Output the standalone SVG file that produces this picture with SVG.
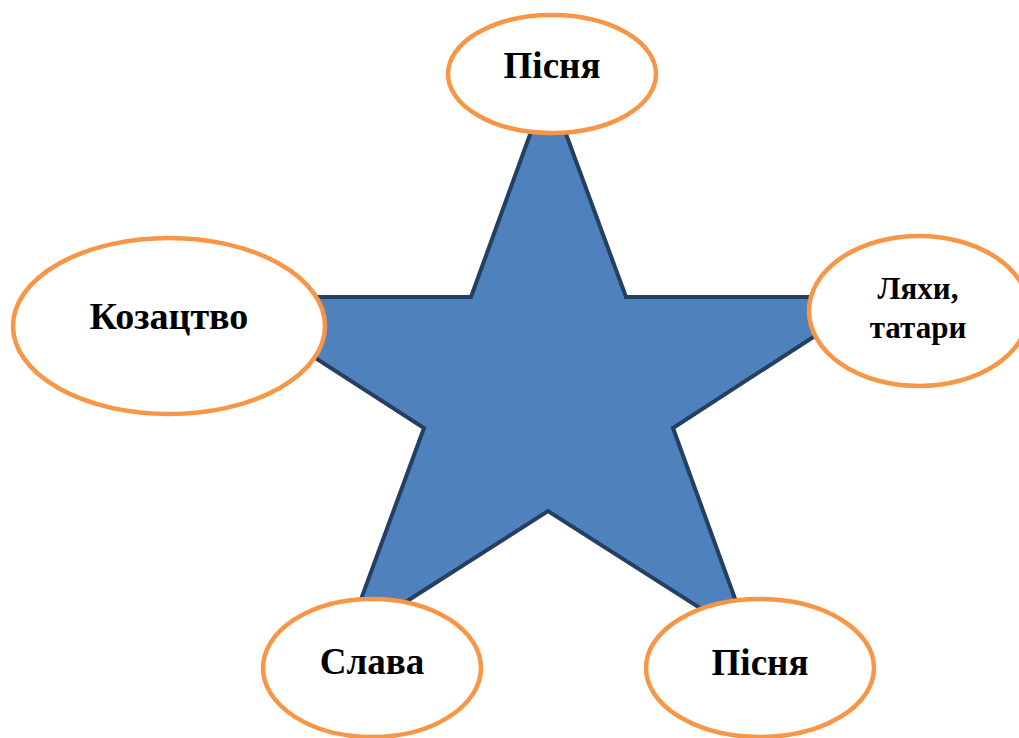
<svg xmlns="http://www.w3.org/2000/svg" width="1019" height="738" viewBox="0 0 1019 738">
<style>
.node ellipse{fill:#fff;stroke:#F79646;stroke-width:4.5}
.node text{font-family:"Liberation Serif","Times New Roman",serif;font-weight:bold;fill:#000;text-anchor:middle}
</style>
<rect width="1019" height="738" fill="#fff"/>
<g id="connectors"></g>
<g id="star">
<polygon points="548,85 626,297 875,297 673,428 750,640 548,511 346,640 424,428 221,297 471,297" fill="#4F81BD" stroke="#243F60" stroke-width="4" stroke-linejoin="miter"/>
</g>
<g id="node-top" class="node">
<ellipse cx="552" cy="74" rx="104" ry="59"/>
<text x="552" y="78" font-size="37">Пісня</text>
</g>
<g id="node-left" class="node">
<ellipse cx="169" cy="326" rx="156" ry="88"/>
<text x="169" y="329" font-size="38">Козацтво</text>
</g>
<g id="node-right" class="node">
<ellipse cx="919" cy="311" rx="110" ry="75"/>
<text x="918" y="299" font-size="31">Ляхи,</text>
<text x="918" y="338" font-size="31">татари</text>
</g>
<g id="node-bl" class="node">
<ellipse cx="372" cy="668" rx="109" ry="69"/>
<text x="372" y="674" font-size="37">Слава</text>
</g>
<g id="node-br" class="node">
<ellipse cx="760" cy="668" rx="114" ry="69"/>
<text x="760" y="675" font-size="37">Пісня</text>
</g>
</svg>
